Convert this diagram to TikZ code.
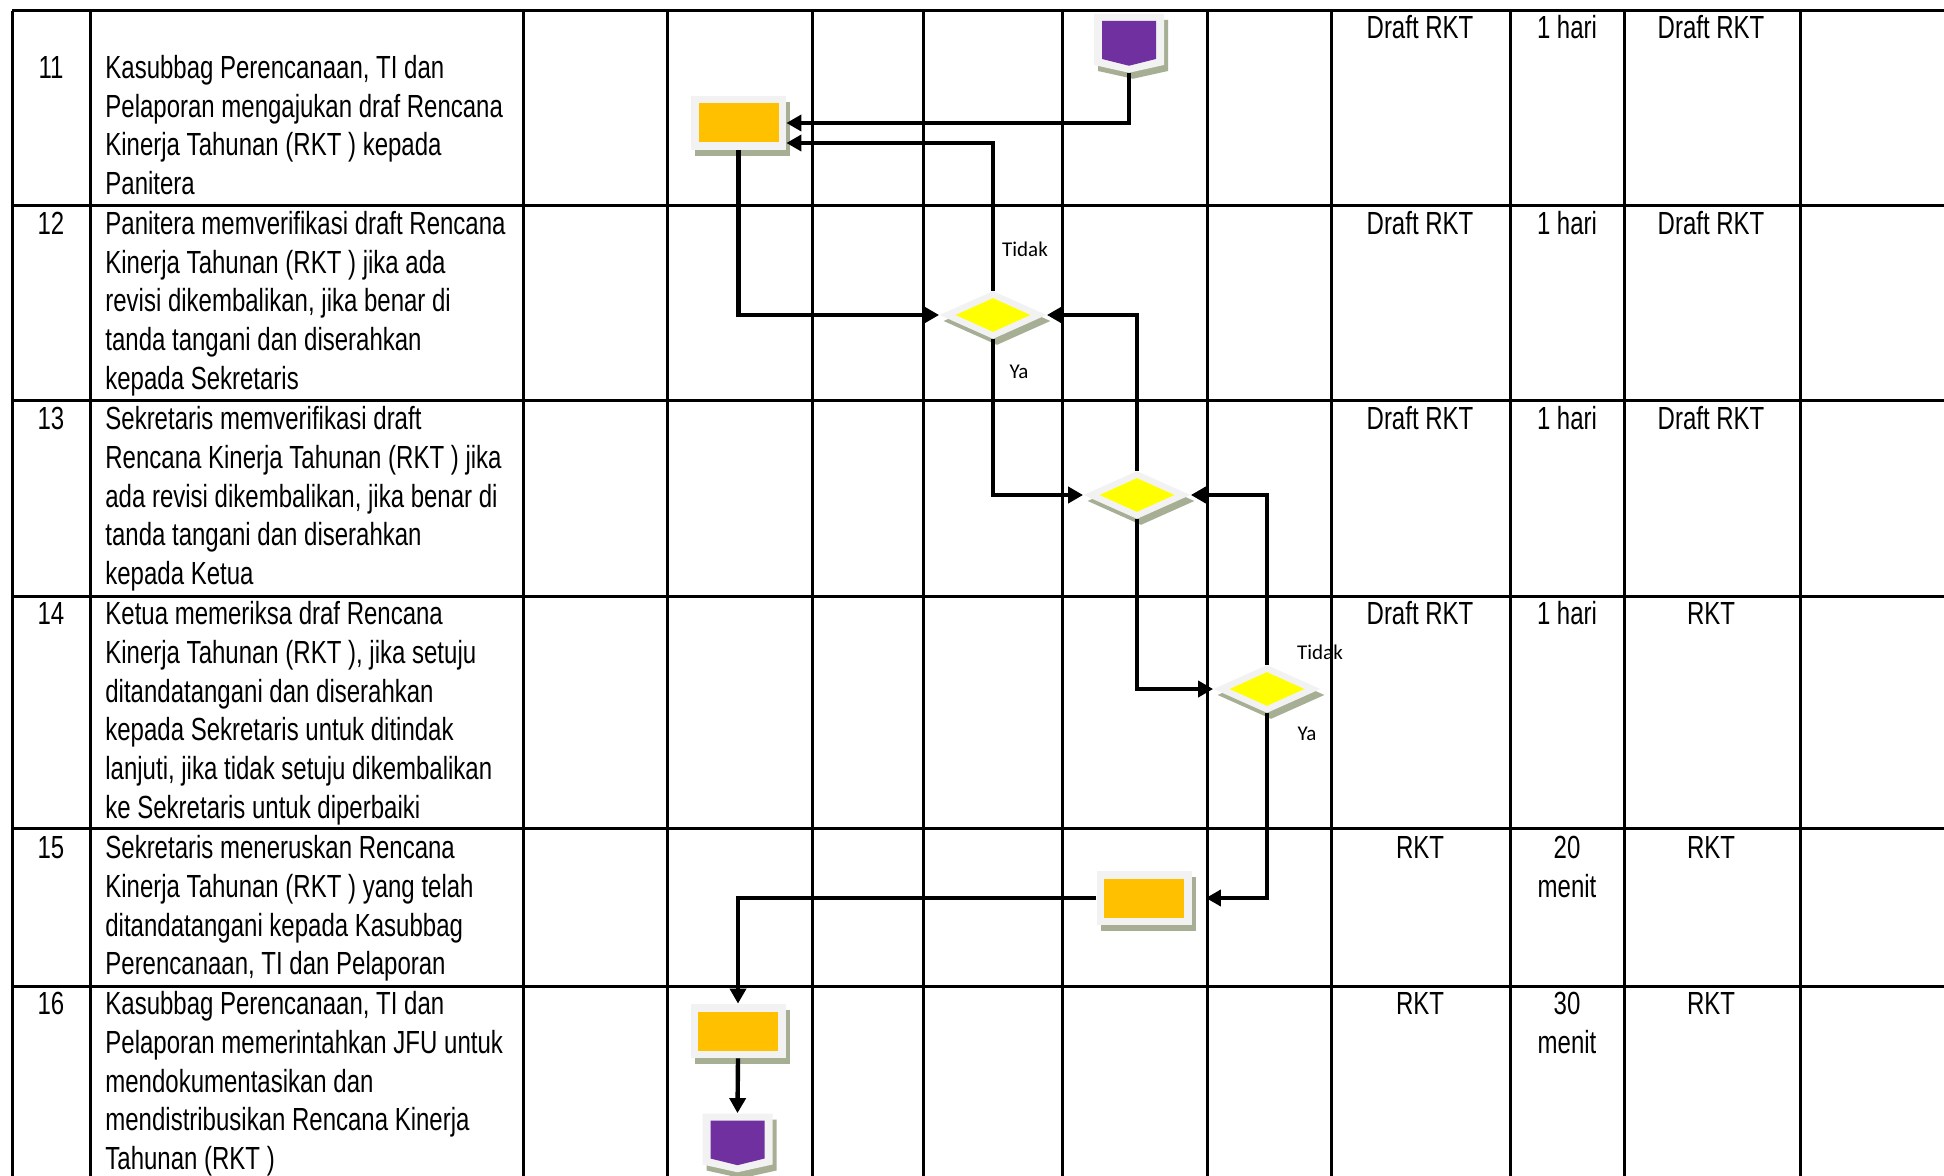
\documentclass[tikz,border=0pt]{standalone}
\usepackage{fontspec}
\setmainfont[FakeStretch=0.75]{Liberation Sans}
\newfontfamily\lblfont{Carlito}
\usetikzlibrary{arrows.meta,shapes.geometric,shapes.symbols,shadows}
\definecolor{framec}{HTML}{F2F2F2}
\definecolor{shadowc}{HTML}{A6AE94}
\definecolor{orangec}{HTML}{FFC000}
\definecolor{yellowc}{HTML}{FFFF00}
\definecolor{purplec}{HTML}{7030A0}
\newcommand\fstrut{\rule{0pt}{13pt}}
\begin{document}
\begin{tikzpicture}[x=0.5pt,y=-0.5pt,
  grid/.style={line width=1.5pt,black},
  flow/.style={line width=2.2pt,black,line join=miter,-{Triangle[length=7.5pt,width=8pt]}},
  frame/.style={fill=framec,draw=none,inner sep=0,general shadow={fill=shadowc,shadow xshift=2pt,shadow yshift=-3pt}},
  procbox/.style={frame,rectangle,minimum width=47.5pt,minimum height=27pt},
  procin/.style={rectangle,fill=orangec,inner sep=0,minimum width=40pt,minimum height=19.5pt},
  decbox/.style={frame,diamond,minimum width=53.5pt,minimum height=24pt},
  decin/.style={diamond,fill=yellowc,inner sep=0,minimum width=37.5pt,minimum height=17pt},
  termbox/.style={frame,signal,signal to=south,signal pointer angle=155,minimum width=35pt,minimum height=25.5pt},
  termin/.style={signal,signal to=south,signal pointer angle=152,fill=purplec,inner sep=0,minimum width=27pt,minimum height=19pt},
  rowtxt/.style={font=\fontsize{16pt}{19.4pt}\selectfont,align=left,inner sep=0,anchor=north west},
  coltxt/.style={font=\fontsize{16pt}{19.4pt}\selectfont,align=center,inner sep=0,anchor=north},
  lbl/.style={font=\lblfont\fontsize{10.5pt}{12pt}\selectfont,inner sep=0}]
\useasboundingbox (0,0) rectangle (1944,1176);
\fill[white] (0,0) rectangle (1944,1176);
% table
\foreach \yy in {11,206,400.5,596,828,986} \draw[grid] (12,\yy) -- (1944,\yy);
\foreach \xx in {12,90.5,523,667,812,923,1062,1207.5,1331,1510,1624,1800} \draw[grid] (\xx,11) -- (\xx,1176);
% numbers
\node[coltxt] (n11) at (51,52) {\fstrut 11};
\node[coltxt] (n12) at (51,208) {\fstrut 12};
\node[coltxt] (n13) at (51,403) {\fstrut 13};
\node[coltxt] (n14) at (51,598) {\fstrut 14};
\node[coltxt] (n15) at (51,832) {\fstrut 15};
\node[coltxt] (n16) at (51,988) {\fstrut 16};
% descriptions
\node[rowtxt] (t11) at (105,52) {\fstrut Kasubbag Perencanaan, TI dan\\Pelaporan mengajukan draf Rencana\\Kinerja Tahunan (RKT ) kepada\\Panitera};
\node[rowtxt] (t12) at (105,208) {\fstrut Panitera memverifikasi draft Rencana\\Kinerja Tahunan (RKT ) jika ada\\revisi dikembalikan, jika benar di\\tanda tangani dan diserahkan\\kepada Sekretaris};
\node[rowtxt] (t13) at (105,403) {\fstrut Sekretaris memverifikasi draft\\Rencana Kinerja Tahunan (RKT ) jika\\ada revisi dikembalikan, jika benar di\\tanda tangani dan diserahkan\\kepada Ketua};
\node[rowtxt] (t14) at (105,598) {\fstrut Ketua memeriksa draf Rencana\\Kinerja Tahunan (RKT ), jika setuju\\ditandatangani dan diserahkan\\kepada Sekretaris untuk ditindak\\lanjuti, jika tidak setuju dikembalikan\\ke Sekretaris untuk diperbaiki};
\node[rowtxt] (t15) at (105,832) {\fstrut Sekretaris meneruskan Rencana\\Kinerja Tahunan (RKT ) yang telah\\ditandatangani kepada Kasubbag\\Perencanaan, TI dan Pelaporan};
\node[rowtxt] (t16) at (105,988) {\fstrut Kasubbag Perencanaan, TI dan\\Pelaporan memerintahkan JFU untuk\\mendokumentasikan dan\\mendistribusikan Rencana Kinerja\\Tahunan (RKT )};
% right columns
\node[coltxt] (a11) at (1420,12) {\fstrut Draft RKT};
\node[coltxt] (b11) at (1567,12) {\fstrut 1 hari};
\node[coltxt] (c11) at (1711,12) {\fstrut Draft RKT};
\node[coltxt] (a12) at (1420,208) {\fstrut Draft RKT};
\node[coltxt] (b12) at (1567,208) {\fstrut 1 hari};
\node[coltxt] (c12) at (1711,208) {\fstrut Draft RKT};
\node[coltxt] (a13) at (1420,403) {\fstrut Draft RKT};
\node[coltxt] (b13) at (1567,403) {\fstrut 1 hari};
\node[coltxt] (c13) at (1711,403) {\fstrut Draft RKT};
\node[coltxt] (a14) at (1420,598) {\fstrut Draft RKT};
\node[coltxt] (b14) at (1567,598) {\fstrut 1 hari};
\node[coltxt] (c14) at (1711,598) {\fstrut RKT};
\node[coltxt] (a15) at (1420,832) {\fstrut RKT};
\node[coltxt] (b15) at (1567,832) {\fstrut 20\\menit};
\node[coltxt] (c15) at (1711,832) {\fstrut RKT};
\node[coltxt] (a16) at (1420,988) {\fstrut RKT};
\node[coltxt] (b16) at (1567,988) {\fstrut 30\\menit};
\node[coltxt] (c16) at (1711,988) {\fstrut RKT};
% symbols
\node[termbox] (P1) at (1129,39.5) {};
\node[termin] (P1i) at (1129,40) {};
\node[procbox] (B1) at (738.5,123) {};
\node[procin] (B1i) at (739,122.5) {};
\node[decbox] (D1) at (993,315) {};
\node[decin] (D1i) at (993,315) {};
\node[decbox] (D2) at (1137,495) {};
\node[decin] (D2i) at (1137,495) {};
\node[decbox] (D3) at (1267,689) {};
\node[decin] (D3i) at (1267,689) {};
\node[procbox] (B2) at (1144,898) {};
\node[procin] (B2i) at (1144,898.5) {};
\node[procbox] (B3) at (738,1031) {};
\node[procin] (B3i) at (738,1031) {};
\node[termbox] (P2) at (737.5,1139) {};
\node[termin] (P2i) at (737.5,1139.5) {};
% connectors
\draw[flow] (P1.south) |- (B1.east);
\draw[flow] (D1.north) |- ([yshift=-10pt]B1.east);
\draw[flow] (B1.south) |- (D1.west);
\draw[flow] (D1.south) |- (D2.west);
\draw[flow] (D2.north) |- (D1.east);
\draw[flow] (D2.south) |- (D3.west);
\draw[flow] (D3.north) |- (D2.east);
\draw[flow,shorten >=7pt] (D3.south) |- (B2.east);
\draw[flow] (B2.west) -| (B3.north);
\draw[flow] (B3.south) -- (P2.north);
% labels
\node[lbl] (tdk1) at (1025,249) {Tidak};
\node[lbl] (ya1) at (1019,372) {Ya};
\node[lbl] (tdk2) at (1320,652) {Tidak};
\node[lbl] (ya2) at (1307,734) {Ya};
\end{tikzpicture}
\end{document}
